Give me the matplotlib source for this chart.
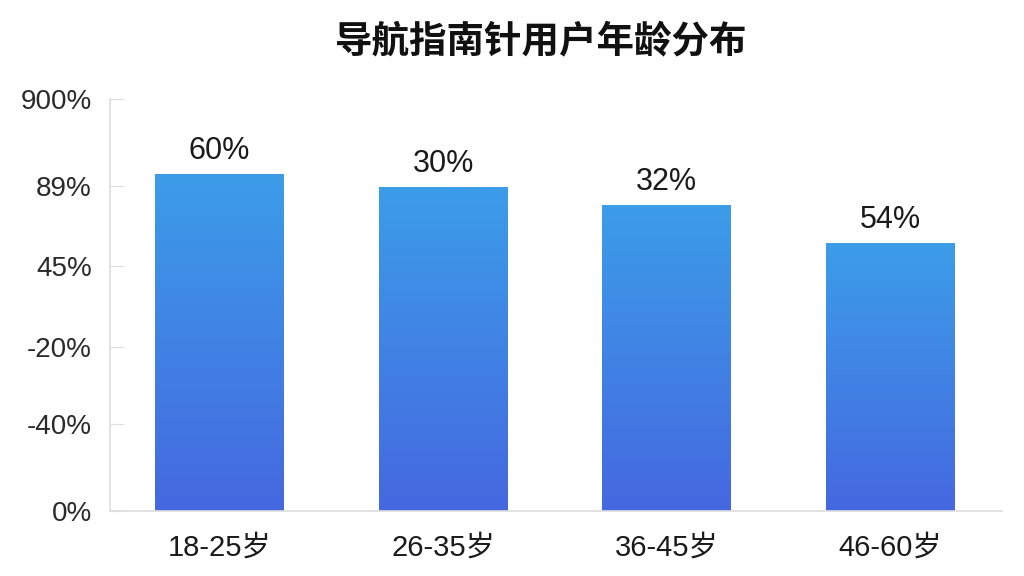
import numpy as np
import matplotlib.pyplot as plt
from matplotlib.colors import LinearSegmentedColormap

plt.rcParams['font.family'] = ['Liberation Sans', 'Noto Sans CJK SC', 'DejaVu Sans']

# data (bar heights, axis units 0-100 = bottom tick to top tick)
categories = ['18-25岁', '26-35岁', '36-45岁', '46-60岁']
bar_heights = [81.8, 78.6, 74.3, 65.0]
value_labels = ['60%', '30%', '32%', '54%']
ytick_pos = [0, 21.1, 39.8, 59.5, 78.9, 100]
ytick_labels = ['0%', '-40%', '-20%', '45%', '89%', '900%']
title = '导航指南针用户年龄分布'

fig = plt.figure(figsize=(10.24, 5.76), dpi=100)
ax = fig.add_axes([110 / 1024, 65 / 576, 892 / 1024, 412 / 576])

cmap = LinearSegmentedColormap.from_list('bar', ['#4568e0', '#3c9de9'])
grad = np.linspace(0, 1, 256).reshape(-1, 1)
width = 0.576
x = np.arange(len(categories))

bars = ax.bar(x, bar_heights, width=width, color='none', edgecolor='none')
for b, lab in zip(bars, value_labels):
    x0, h = b.get_x(), b.get_height()
    im = ax.imshow(grad, cmap=cmap, origin='lower', aspect='auto',
                   extent=(x0, x0 + width, 0, h), zorder=2)
    im.set_clip_path(b)
    ax.text(x0 + width / 2, h + 2.0, lab, ha='center', va='bottom',
            fontsize=22, color='#1a1a1a')

ax.set_xlim(-0.49, 3.5)
ax.set_ylim(0, 100)
ax.set_xticks(x)
ax.set_xticklabels(categories, fontsize=21, color='#1a1a1a')
ax.tick_params(axis='x', length=0, pad=16)
ax.set_yticks(ytick_pos)
ax.set_yticklabels(ytick_labels, fontsize=20, color='#2a2a2a')
ax.tick_params(axis='y', direction='in', length=10, color='#dddddd', pad=13)

for s in ['top', 'right']:
    ax.spines[s].set_visible(False)
for s in ['left', 'bottom']:
    ax.spines[s].set_color('#dddddd')
    ax.spines[s].set_linewidth(1.2)

fig.text(541 / 1024, 1 - 41 / 576, title, ha='center', va='center',
         fontsize=27, fontweight='bold', color='#111111',
         family=['Noto Sans CJK SC', 'DejaVu Sans'])

fig.savefig('out.png', dpi=100, facecolor='white')
